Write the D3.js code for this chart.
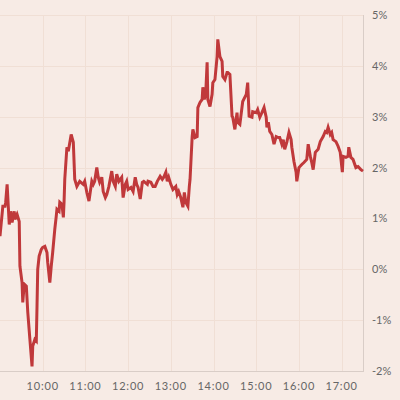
<!DOCTYPE html>
<html>
<head>
<meta charset="utf-8">
<script src="https://cdn.jsdelivr.net/npm/d3@7"></script>
<style>
  body { margin: 0; background: #f7ebe5; }
  svg { display: block; }
</style>
</head>
<body>
<svg></svg>
<script>
const width = 400
const height = 400

// minutes after 09:00
const minutes = [0,4,7,8,10,13,15,17,20,21,24,27,28,31,32,34,37,39,42,45,46,49,51,52,53,55,58,60,63,66,67,70,72,74,77,79,80,83,84,87,89,90,91,94,96,100,103,105,108,112,117,119,122,125,129,131,133,136,138,140,143,145,148,150,153,157,159,162,164,167,171,173,176,178,180,184,187,190,192,194,197,200,202,207,208,212,215,218,221,225,228,230,233,235,237,240,243,247,249,251,254,257,259,261,264,266,267,270,271,274,277,278,281,284,285,287,289,291,292,295,298,299,302,305,306,309,312,313,316,319,320,323,326,327,330,333,334,337,341,346,348,350,354,355,360,362,365,368,371,374,375,377,379,382,385,388,391,393,396,398,400,403,406,409,410,413,416,417,420,424,427,431,433,436,438,440,443,447,450,454,457,459,461,464,466,468,472,475,478,481,482,486,489,490,493,496,500,503,507,510]
// change in percent
const change = [0.65,1.24,1.24,1.32,1.67,0.88,1.14,0.92,1.14,0.98,1.08,0.94,0.06,-0.26,-0.65,-0.29,-0.33,-0.84,-1.38,-1.91,-1.51,-1.38,-1.41,-0.73,0.00,0.26,0.39,0.43,0.45,0.33,0.14,-0.26,0.06,0.33,0.79,1.04,1.18,1.14,1.32,1.28,1.02,1.32,1.77,2.40,2.32,2.65,2.50,1.77,1.63,1.73,1.67,1.73,1.51,1.34,1.73,1.67,1.73,2.00,1.81,1.71,1.81,1.53,1.41,1.47,1.63,1.93,1.73,1.63,1.87,1.73,1.81,1.41,1.67,1.73,1.57,1.61,1.53,1.81,1.67,1.61,1.38,1.71,1.73,1.67,1.73,1.71,1.63,1.63,1.73,1.83,1.77,1.81,1.91,1.73,1.81,1.67,1.57,1.63,1.47,1.53,1.41,1.22,1.51,1.32,1.24,1.63,1.77,2.61,2.75,2.59,2.61,3.18,3.28,3.34,3.58,3.34,3.44,4.07,3.34,3.20,3.44,3.67,3.73,4.18,4.52,4.18,4.09,3.79,3.73,3.87,3.87,3.83,3.01,2.99,2.75,3.08,2.89,2.85,3.30,3.44,3.67,3.01,2.99,3.10,3.08,3.14,2.99,3.08,3.18,2.99,2.79,2.89,2.71,2.65,2.46,2.61,2.59,2.59,2.46,2.55,2.36,2.50,2.69,2.55,2.40,2.12,1.91,1.73,2.00,2.06,2.10,2.16,2.46,2.22,2.10,1.96,2.30,2.36,2.51,2.61,2.71,2.69,2.79,2.65,2.69,2.55,2.51,2.42,2.30,1.91,2.22,2.20,2.22,2.40,2.20,2.16,2.00,2.02,1.96,1.93]

const hourTicks = [10, 11, 12, 13, 14, 15, 16, 17]
const pctTicks = [5, 4, 3, 2, 1, 0, -1, -2]

const day = new Date(2020, 0, 6, 9, 0)
const data = minutes.map((m, i) => ({ t: d3.timeMinute.offset(day, m), v: change[i] }))

const svg = d3.select('svg')
  .attr('width', width)
  .attr('height', height)

const x = d3.scaleTime()
  .domain([day, d3.timeMinute.offset(day, 510)])
  .range([0, 363])

const y = d3.scaleLinear()
  .domain([-2, 5])
  .range([371, 15])

svg.append('rect')
  .attr('width', width)
  .attr('height', height)
  .attr('fill', '#f7ebe5')

// grid
const grid = svg.append('g')
  .attr('stroke', '#f0dfd5')
  .attr('stroke-width', 1)

grid.selectAll('line.h')
  .data(pctTicks)
  .enter()
  .append('line')
  .attr('x1', 0)
  .attr('x2', 363)
  .attr('y1', d => Math.round(y(d)) + 0.5)
  .attr('y2', d => Math.round(y(d)) + 0.5)

grid.selectAll('line.v')
  .data(hourTicks)
  .enter()
  .append('line')
  .attr('x1', d => Math.round(x(d3.timeHour.offset(day, d - 9))) + 0.5)
  .attr('x2', d => Math.round(x(d3.timeHour.offset(day, d - 9))) + 0.5)
  .attr('y1', 15)
  .attr('y2', 371)

// axis lines
svg.append('line')
  .attr('x1', 0).attr('x2', 364)
  .attr('y1', 371.5).attr('y2', 371.5)
  .attr('stroke', '#d9cdc7')
svg.append('line')
  .attr('x1', 363.5).attr('x2', 363.5)
  .attr('y1', 15).attr('y2', 372)
  .attr('stroke', '#d9cdc7')

// labels
svg.append('g')
  .selectAll('text')
  .data(hourTicks)
  .enter()
  .append('text')
  .attr('x', d => x(d3.timeHour.offset(day, d - 9)))
  .attr('y', 390)
  .attr('text-anchor', 'middle')
  .attr('font-family', 'Lato, sans-serif')
  .attr('font-size', 11)
  .attr('letter-spacing', 0.8)
  .attr('fill', '#666')
  .text(d => d + ':00')

svg.append('g')
  .selectAll('text')
  .data(pctTicks)
  .enter()
  .append('text')
  .attr('x', 372)
  .attr('y', d => y(d) + 4)
  .attr('font-family', 'Lato, sans-serif')
  .attr('font-size', 11)
  .attr('fill', '#666')
  .text(d => d + '%')

const line = d3.line()
  .x(d => x(d.t))
  .y(d => y(d.v))

svg.append('path')
  .datum(data)
  .attr('d', line)
  .attr('fill', 'none')
  .attr('stroke', '#c0393b')
  .attr('stroke-width', 3)
</script>
</body>
</html>
